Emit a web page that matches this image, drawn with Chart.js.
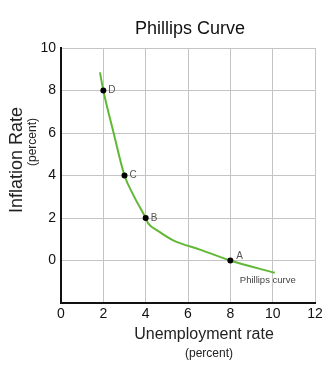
<!DOCTYPE html>
<html>
<head>
<meta charset="utf-8">
<script src="https://cdn.jsdelivr.net/npm/chart.js@4/dist/chart.umd.min.js"></script>
<style>
  html, body { margin: 0; padding: 0; background: #fff; }
  #wrap { width: 334px; height: 370px; position: relative; }
</style>
</head>
<body>
<div id="wrap"><canvas id="c" width="334" height="370"></canvas></div>
<script>
// ---- data ----
const curveX = [1.84, 2, 2.47, 3, 3.45, 4, 4.12, 4.6, 5.3, 6.6, 8, 10.1];
const curveY = [8.85, 8, 6.07, 4, 3.02, 2, 1.75, 1.38, 0.95, 0.5, 0, -0.58];
const pointLabels = ['D', 'C', 'B', 'A'];
const pointX = [2, 3, 4, 8];
const pointY = [8, 4, 2, 0];
const xTickValues = [0, 2, 4, 6, 8, 10, 12];
const yTickValues = [-2, 0, 2, 4, 6, 8, 10];
const yTickLabels = ['', '0', '2', '4', '6', '8', '10'];
const titleText = 'Phillips Curve';
const xTitle = 'Unemployment rate';
const yTitle = 'Inflation Rate';
const unitText = '(percent)';
const curveName = 'Phillips curve';

const FONT = '"Liberation Sans", Arial, sans-serif';

const textPlugin = {
  id: 'texts',
  afterDraw(chart) {
    const ctx = chart.ctx;
    const xs = chart.scales.x, ys = chart.scales.y;
    ctx.save();
    // point labels
    ctx.font = '10px ' + FONT;
    ctx.fillStyle = '#555';
    ctx.textAlign = 'left';
    ctx.textBaseline = 'middle';
    pointLabels.forEach((t, i) => {
      const px = xs.getPixelForValue(pointX[i]);
      const py = ys.getPixelForValue(pointY[i]);
      const off = (t === 'A') ? [6, -4] : [5, 0];
      ctx.fillText(t, px + off[0], py + off[1]);
    });
    // curve name near end
    const n = curveX.length - 1;
    const ex = xs.getPixelForValue(curveX[n]);
    const ey = ys.getPixelForValue(curveY[n]);
    ctx.font = '9.5px ' + FONT;
    ctx.fillStyle = '#444';
    ctx.textAlign = 'center';
    ctx.fillText(curveName, ex - 7, ey + 8);
    // axis titles
    ctx.fillStyle = '#222';
    ctx.font = '16px ' + FONT;
    ctx.fillText(xTitle, 204, 335);
    ctx.font = '12px ' + FONT;
    ctx.fillText(unitText, 209, 354);
    ctx.save();
    ctx.translate(17, 160);
    ctx.rotate(-Math.PI / 2);
    ctx.font = '18px ' + FONT;
    ctx.fillText(yTitle, 0, 0);
    ctx.restore();
    ctx.save();
    ctx.translate(33, 142);
    ctx.rotate(-Math.PI / 2);
    ctx.font = '12px ' + FONT;
    ctx.fillText(unitText, 0, 0);
    ctx.restore();
    ctx.restore();
  }
};

new Chart(document.getElementById('c'), {
  type: 'scatter',
  data: {
    datasets: [
      {
        label: curveName,
        data: curveX.map((x, i) => ({ x, y: curveY[i] })),
        showLine: true,
        borderColor: '#62b835',
        borderWidth: 2,
        pointRadius: 0,
        cubicInterpolationMode: 'monotone',
        order: 2
      },
      {
        label: 'points',
        data: pointX.map((x, i) => ({ x, y: pointY[i] })),
        showLine: false,
        pointRadius: 3,
        pointBackgroundColor: '#000',
        pointBorderColor: '#000',
        pointBorderWidth: 0,
        order: 1
      }
    ]
  },
  options: {
    responsive: false,
    animation: false,
    devicePixelRatio: 1,
    layout: { padding: { left: 0, top: 48, right: 19, bottom: 0 } },
    plugins: {
      legend: { display: false },
      tooltip: { enabled: false },
      title: { display: false }
    },
    scales: {
      x: {
        type: 'linear',
        min: 0, max: 12,
        afterBuildTicks: (s) => { s.ticks = xTickValues.map(v => ({ value: v })); },
        afterFit: (s) => { s.height = 67; },
        ticks: {
          color: '#111',
          font: { family: FONT, size: 14 },
          padding: 3,
          callback: (v) => String(v)
        },
        grid: { color: '#c4c4c4', lineWidth: 1, drawTicks: false },
        border: { color: '#111', width: 2 }
      },
      y: {
        type: 'linear',
        min: -2, max: 10,
        afterBuildTicks: (s) => { s.ticks = yTickValues.map(v => ({ value: v })); },
        afterFit: (s) => { s.width = 61; },
        ticks: {
          color: '#111',
          font: { family: FONT, size: 14 },
          padding: 5,
          callback: (v) => { const i = yTickValues.indexOf(v); return i >= 0 ? yTickLabels[i] : ''; }
        },
        grid: { color: '#c4c4c4', lineWidth: 1, drawTicks: false },
        border: { color: '#111', width: 2 }
      }
    }
  },
  plugins: [textPlugin, {
    id: 'mainTitle',
    afterDraw(chart) {
      const ctx = chart.ctx;
      ctx.save();
      ctx.font = '18px ' + FONT;
      ctx.fillStyle = '#111';
      ctx.textAlign = 'center';
      ctx.textBaseline = 'middle';
      ctx.fillText(titleText, 190, 29);
      ctx.restore();
    }
  }]
});
</script>
</body>
</html>
